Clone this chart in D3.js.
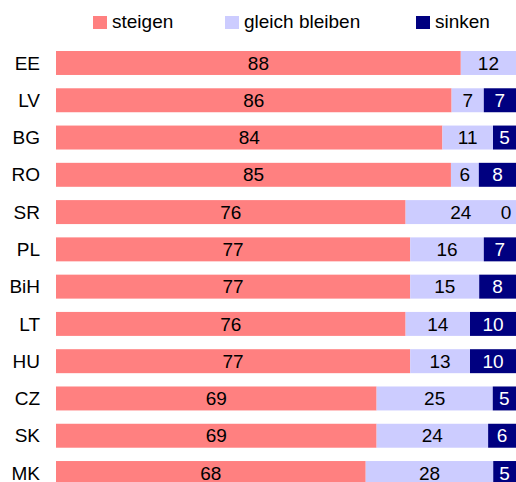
<!DOCTYPE html>
<html>
<head>
<meta charset="utf-8">
<script src="https://cdn.jsdelivr.net/npm/d3@7"></script>
<style>
  body { margin: 0; background: #fff; }
  text { font-family: "Liberation Sans", Arial, sans-serif; }
</style>
</head>
<body>
<div id="chart"></div>
<script>
var countries = ["EE", "LV", "BG", "RO", "SR", "PL", "BiH", "LT", "HU", "CZ", "SK", "MK"];
var steigen = [88, 86, 84, 85, 76, 77, 77, 76, 77, 69, 69, 68];
var gleich = [12, 7, 11, 6, 24, 16, 15, 14, 13, 25, 24, 28];
var sinken = [null, 7, 5, 8, 0, 7, 8, 10, 10, 5, 6, 5];
var seriesNames = ["steigen", "gleich bleiben", "sinken"];
var colors = ["#ff8080", "#ccccff", "#000080"];

function main() {
    const width = 516;
    const height = 482;

    var svg = d3.select("#chart").append("svg")
        .attr("width", width)
        .attr("height", height)

    var rows = countries.map(function (c, i) {
        var vals = [steigen[i], gleich[i], sinken[i]];
        var total = d3.sum(vals, function (v) { return v || 0; });
        var acc = 0;
        var segs = vals.map(function (v, k) {
            var s = { k: k, v: v, x0: acc / total * 100 };
            acc += (v || 0);
            s.x1 = acc / total * 100;
            return s;
        });
        return { name: c, segs: segs };
    });

    var x = d3.scaleLinear().domain([0, 100]).range([56, 516]);
    var y = d3.scaleBand().domain(countries).range([51, 485]).paddingInner(0.357).paddingOuter(0);

    // legend
    var legendX = [93, 225, 416];
    var legend = svg.selectAll("g.legend")
        .data(seriesNames)
        .enter()
        .append("g")
        .attr("class", "legend")
        .attr("transform", function (d, i) { return "translate(" + legendX[i] + ",16)"; })
    legend.append("rect")
        .attr("width", 14)
        .attr("height", 13)
        .style("fill", function (d, i) { return colors[i]; })
    legend.append("text")
        .attr("x", 19)
        .attr("y", 12)
        .attr("font-size", "19px")
        .text(function (d) { return d; })

    var row = svg.selectAll("g.row")
        .data(rows)
        .enter()
        .append("g")
        .attr("class", "row")
        .attr("transform", function (d) { return "translate(0," + y(d.name) + ")"; })

    row.append("text")
        .attr("x", 40)
        .attr("y", y.bandwidth() / 2)
        .attr("dy", "0.35em")
        .attr("text-anchor", "end")
        .attr("font-size", "19px")
        .text(function (d) { return d.name; })

    row.selectAll("rect")
        .data(function (d) { return d.segs.filter(function (s) { return s.v; }); })
        .enter()
        .append("rect")
        .attr("x", function (s) { return x(s.x0); })
        .attr("width", function (s) { return x(s.x1) - x(s.x0); })
        .attr("height", y.bandwidth())
        .style("fill", function (s) { return colors[s.k]; })

    row.selectAll("text.val")
        .data(function (d) { return d.segs.filter(function (s) { return s.v !== null; }); })
        .enter()
        .append("text")
        .attr("class", "val")
        .attr("x", function (s) {
            var cx = (x(s.x0) + x(s.x1)) / 2;
            return Math.min(cx, 506);
        })
        .attr("y", y.bandwidth() / 2)
        .attr("dy", "0.35em")
        .attr("text-anchor", "middle")
        .attr("font-size", "19px")
        .style("fill", function (s) { return (s.k === 2 && s.v > 0) ? "#fff" : "#000"; })
        .text(function (s) { return s.v; })
}
main();
</script>
</body>
</html>
